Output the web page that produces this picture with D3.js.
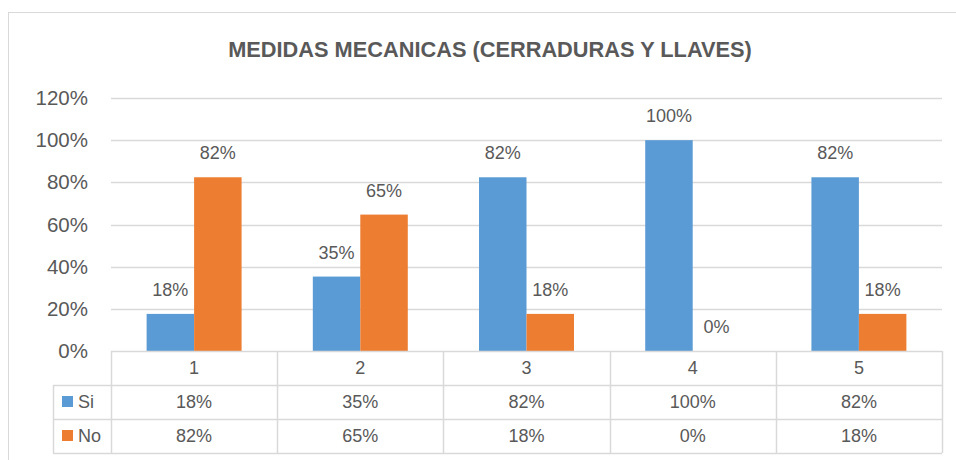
<!DOCTYPE html>
<html>
<head>
<meta charset="utf-8">
<script src="https://cdn.jsdelivr.net/npm/d3@7"></script>
<style>
  body { margin: 0; background: #fff; }
  svg text { font-family: "Liberation Sans", Arial, sans-serif; fill: #595959; }
</style>
</head>
<body>
<div id="visual"></div>
<script>
// chart data
const title = "MEDIDAS MECANICAS (CERRADURAS Y LLAVES)";
const categories = ["1", "2", "3", "4", "5"];
const seriesNames = ["Si", "No"];
const siValues = [0.176, 0.353, 0.824, 1.00, 0.824];
const noValues = [0.824, 0.647, 0.176, 0.00, 0.176];
const yTicks = [0, 0.2, 0.4, 0.6, 0.8, 1.0, 1.2];

const colors = { Si: "#5B9BD5", No: "#ED7D31" };
const values = { Si: siValues, No: noValues };
const fmt = d3.format(".0%");

const W = 956, H = 460;
const plot = { left: 111, right: 942, top: 98, bottom: 351 };
const rowH = 34;

const svg = d3.select("#visual").append("svg")
    .attr("width", W)
    .attr("height", H);

// outer chart border
svg.append("rect")
    .attr("x", 8.5).attr("y", 12.5)
    .attr("width", W).attr("height", H)
    .attr("fill", "none")
    .attr("stroke", "#D9D9D9");

// title, fitted to the width it has in the reference
const t = svg.append("text")
    .attr("x", 490).attr("y", 57)
    .attr("text-anchor", "middle")
    .style("font-weight", "bold")
    .style("font-size", "22px")
    .text(title);
const tw = t.node().getComputedTextLength();
t.style("font-size", (22 * 524 / tw).toFixed(2) + "px");

// scales
const x0 = d3.scaleBand().domain(categories).range([plot.left, plot.right]);
const x1 = d3.scaleBand().domain(seriesNames).range([0, x0.bandwidth()]).paddingOuter(0.75);
const y = d3.scaleLinear().domain([0, 1.2]).range([plot.bottom, plot.top]);

// gridlines
svg.append("g")
    .selectAll("line")
    .data(yTicks.filter(d => d > 0))
    .join("line")
    .attr("x1", plot.left).attr("x2", plot.right)
    .attr("y1", d => Math.round(y(d)) + 0.5)
    .attr("y2", d => Math.round(y(d)) + 0.5)
    .attr("stroke", "#D9D9D9")
    .attr("stroke-width", 1.5);

// y axis labels
const yAxis = svg.append("g")
    .attr("transform", "translate(" + (plot.left - 23) + ",0)")
    .call(d3.axisLeft(y).tickValues(yTicks).tickFormat(fmt).tickSize(0).tickPadding(0));
yAxis.select(".domain").remove();
yAxis.selectAll("text")
    .style("font-size", "20.5px")
    .attr("fill", "#595959")
    .style("font-family", "Liberation Sans, Arial, sans-serif");

// bars
const groups = svg.append("g")
    .selectAll("g")
    .data(categories)
    .join("g")
    .attr("transform", d => "translate(" + x0(d) + ",0)");

groups.selectAll("rect")
    .data((d, i) => seriesNames.map(s => ({ s, v: values[s][i] })))
    .join("rect")
    .attr("x", d => x1(d.s))
    .attr("y", d => y(d.v))
    .attr("width", x1.bandwidth())
    .attr("height", d => y(0) - y(d.v))
    .attr("fill", d => colors[d.s]);

// data labels
groups.selectAll("text")
    .data((d, i) => seriesNames.map(s => ({ s, v: values[s][i] })))
    .join("text")
    .attr("x", d => x1(d.s) + x1.bandwidth() / 2)
    .attr("y", d => y(d.v) - 18)
    .attr("text-anchor", "middle")
    .style("font-size", "18px")
    .text(d => fmt(d.v));

// data table
const table = svg.append("g");
const lineColor = "#D9D9D9";
const tLeft = 53;
const r0 = plot.bottom, r1 = r0 + rowH, r2 = r1 + rowH, r3 = r2 + rowH;

// horizontal lines
table.append("line").attr("x1", plot.left).attr("x2", plot.right).attr("y1", r0 + 0.5).attr("y2", r0 + 0.5);
[r1, r2, r3].forEach(r => {
    table.append("line").attr("x1", tLeft).attr("x2", plot.right).attr("y1", r + 0.5).attr("y2", r + 0.5);
});
// vertical lines
categories.forEach(c => {
    table.append("line").attr("x1", Math.round(x0(c)) + 0.5).attr("x2", Math.round(x0(c)) + 0.5).attr("y1", r0).attr("y2", r3);
});
table.append("line").attr("x1", plot.right + 0.5).attr("x2", plot.right + 0.5).attr("y1", r0).attr("y2", r3);
table.append("line").attr("x1", tLeft + 0.5).attr("x2", tLeft + 0.5).attr("y1", r1).attr("y2", r3);
table.selectAll("line").attr("stroke", lineColor).attr("stroke-width", 1.5);

// header row
table.selectAll("text.cat")
    .data(categories)
    .join("text")
    .attr("class", "cat")
    .attr("x", d => x0(d) + x0.bandwidth() / 2)
    .attr("y", r0 + rowH / 2 + 6)
    .attr("text-anchor", "middle")
    .style("font-size", "18px")
    .text(d => d);

// series rows
seriesNames.forEach((s, j) => {
    const top = r1 + j * rowH;
    table.append("rect")
        .attr("x", 62).attr("y", top + 11)
        .attr("width", 11).attr("height", 11)
        .attr("fill", colors[s]);
    table.append("text")
        .attr("x", 78).attr("y", top + rowH / 2 + 6)
        .style("font-size", "18px")
        .text(s);
    table.selectAll("text.v" + j)
        .data(values[s])
        .join("text")
        .attr("class", "v" + j)
        .attr("x", (d, i) => x0(categories[i]) + x0.bandwidth() / 2)
        .attr("y", top + rowH / 2 + 6)
        .attr("text-anchor", "middle")
        .style("font-size", "18px")
        .text(d => fmt(d));
});
</script>
</body>
</html>
